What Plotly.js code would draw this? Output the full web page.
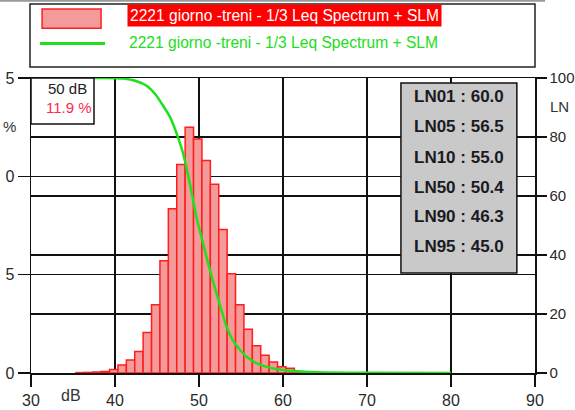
<!DOCTYPE html>
<html>
<head>
<meta charset="utf-8">
<script src="https://cdn.plot.ly/plotly-3.0.1.min.js"></script>
<style>
html,body{margin:0;padding:0;background:#fff;}
#chart{width:575px;height:410px;}
</style>
</head>
<body>
<div id="chart"></div>
<script>
// ---- data ----
const levelsDb = [36,37,38,39,40,41,42,43,44,45,46,47,48,49,50,51,52,53,54,55,56,57,58,59,60,61,62,63,64,65];
const percentValues = [0.02,0.03,0.05,0.08,0.18,0.41,0.66,1.09,2.06,3.47,5.71,8.35,10.6,12.5,11.9,10.8,9.6,7.3,5.05,3.47,2.23,1.38,0.9,0.56,0.32,0.24,0.08,0.05,0.03,0.02];
const curveDb = [30,38,41,42.5,43.8,44.8,45.75,46.6,47.3,48.0,48.5,49.1,49.7,50.3,50.9,51.5,52.1,52.7,53.3,54.0,54.9,55.8,56.9,58.3,60,62,65,70,80];
const curveLn = [100,100,99.8,99,97.3,94.5,90.5,86.5,81.5,75.5,69.7,61.5,52.8,46,39.3,32.8,26.9,21,15.6,11.2,7.8,5.2,3.3,1.9,1.0,0.5,0.2,0.05,0];
const seriesName = "2221 giorno -treni - 1/3 Leq Spectrum + SLM";
const lnLabels = ["LN01","LN05","LN10","LN50","LN90","LN95"];
const lnValues = [60.0,56.5,55.0,50.4,46.3,45.0];
const xTicks = [30,40,50,60,70,80,90];
const yLeftTicks = [0,5,10,15];
const yRightTicks = [0,20,40,60,80,100];
const peakDb = 50;

// ---- build ----
const peakPct = percentValues[levelsDb.indexOf(peakDb)];
const FONT = "Liberation Sans, Arial, sans-serif";

const bars = {
  type: 'bar', x: levelsDb, y: percentValues, name: seriesName,
  width: 1, offset: -0.65,
  marker: {color: '#f59a9a', line: {color: '#ff1e1e', width: 1.5}},
  xaxis: 'x', yaxis: 'y', showlegend: false, hoverinfo: 'x+y'
};
const curve = {
  type: 'scatter', mode: 'lines', x: curveDb, y: curveLn, name: seriesName,
  line: {color: '#1fe01f', width: 2.5, shape: 'spline', smoothing: 0.6},
  xaxis: 'x', yaxis: 'y2', showlegend: false
};

// left tick labels: leading digit hidden, as cropped in the reference
const leftText = yLeftTicks.map(v => {
  const s = String(v);
  return s.length > 1 ? '<span style="color:#ffffff;font-size:4px">' + s.slice(0, s.length - 1) + '</span>' + s.slice(-1) : s;
});

const shapes = [
  {type:'rect', xref:'paper', yref:'paper', x0:-0.002, x1:1.0, y0:1.037, y1:1.251, line:{color:'#222', width:1.5}, fillcolor:'#fff', layer:'above'},
  {type:'rect', xref:'paper', yref:'paper', x0:0.022, x1:0.139, y0:1.169, y1:1.234, line:{color:'#ff1e1e', width:1.5}, fillcolor:'#f59a9a', layer:'above'},
  {type:'line', xref:'paper', yref:'paper', x0:0.018, x1:0.147, y0:1.117, y1:1.117, line:{color:'#1fe01f', width:3}, layer:'above'},
  {type:'rect', xref:'paper', yref:'paper', x0:0, x1:0.125, y0:0.844, y1:1.0, line:{color:'#111', width:1.5}, fillcolor:'#fff', layer:'above'},
  {type:'rect', xref:'paper', yref:'paper', x0:0.734, x1:0.964, y0:0.339, y1:0.983, line:{color:'#111', width:1.5}, fillcolor:'#c9c9c9', layer:'above'},
  {type:'line', xref:'paper', yref:'paper', x0:-0.07, x1:1.02, y0:1.262, y1:1.262, line:{color:'#9a9a9a', width:2}}
];

const annotations = [
  {xref:'paper', yref:'paper', x:0.19, y:1.212, xanchor:'left', yanchor:'middle', text:seriesName, showarrow:false,
   font:{family:FONT, size:15.6, color:'#ffffff'}, bgcolor:'#ff0000', borderpad:2},
  {xref:'paper', yref:'paper', x:0.19, y:1.119, xanchor:'left', yanchor:'middle', text:seriesName, showarrow:false,
   font:{family:FONT, size:15.6, color:'#22dd22'}},
  {xref:'paper', yref:'paper', x:0.073, y:0.963, xanchor:'center', yanchor:'middle', text:peakDb + ' dB', showarrow:false,
   font:{family:FONT, size:15, color:'#222'}},
  {xref:'paper', yref:'paper', x:0.076, y:0.9, xanchor:'center', yanchor:'middle', text:peakPct.toFixed(1) + ' %', showarrow:false,
   font:{family:FONT, size:15, color:'#ff2a4a'}},
  {xref:'paper', yref:'paper', x:-0.042, y:0.834, xanchor:'center', yanchor:'middle', text:'%', showarrow:false,
   font:{family:FONT, size:15, color:'#333'}},
  {xref:'paper', yref:'paper', x:1.048, y:0.902, xanchor:'center', yanchor:'middle', text:'LN', showarrow:false,
   font:{family:FONT, size:15, color:'#333'}},
  {xref:'paper', yref:'paper', x:0.079, y:-0.075, xanchor:'center', yanchor:'middle', text:'dB', showarrow:false,
   font:{family:FONT, size:16, color:'#333'}}
];
const lnY = [0.936,0.835,0.732,0.628,0.530,0.428];
lnLabels.forEach((lab, i) => {
  annotations.push({xref:'paper', yref:'paper', x:0.849, y:lnY[i], xanchor:'center', yanchor:'middle',
    text: lab + ' : ' + lnValues[i].toFixed(1), showarrow:false,
    font:{family:FONT, size:17, color:'#1a1a22', weight:'bold'}});
});

const axisCommon = {
  showgrid: true, gridcolor: '#111', gridwidth: 1.5, zeroline: false,
  showline: true, linecolor: '#111', linewidth: 1.5,
  ticks: 'outside', ticklen: 12, tickcolor: '#111', tickwidth: 1.5,
  tickfont: {family: FONT, size: 16, color: '#2a2a2a'}, fixedrange: true
};

const layout = {
  width: 575, height: 410,
  margin: {l: 31, r: 40, t: 78, b: 37, pad: 0},
  paper_bgcolor: '#fff', plot_bgcolor: '#fff',
  showlegend: false, bargap: 0,
  xaxis: Object.assign({}, axisCommon, {range: [30, 90], tickvals: xTicks, mirror: true}),
  yaxis: Object.assign({}, axisCommon, {range: [0, 15], tickvals: yLeftTicks, ticktext: leftText, side: 'left'}),
  yaxis2: Object.assign({}, axisCommon, {range: [0, 100], tickvals: yRightTicks, overlaying: 'y', side: 'right',
    ticklen: 10, tickfont: {family: FONT, size: 15, color: '#2a2a2a'}}),
  shapes: shapes,
  annotations: annotations
};

Plotly.newPlot('chart', [bars, curve], layout, {displayModeBar: false, staticPlot: true});
</script>
</body>
</html>
